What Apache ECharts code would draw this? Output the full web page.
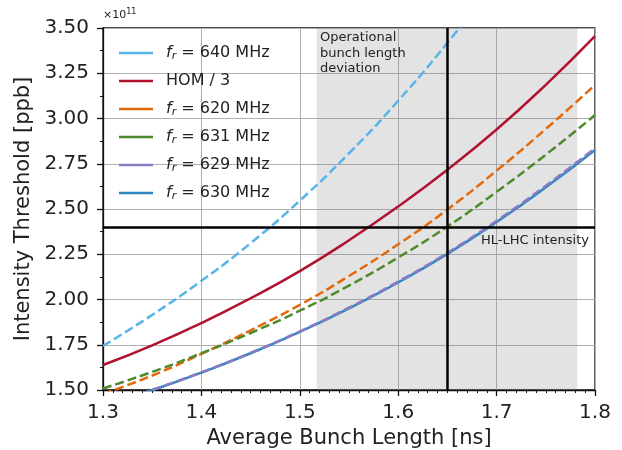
<!DOCTYPE html>
<html>
<head>
<meta charset="utf-8">
<script src="https://cdn.jsdelivr.net/npm/echarts@6/dist/echarts.min.js"></script>
<style>html,body{margin:0;padding:0;background:#fff}#c{width:622px;height:450px}</style>
</head>
<body>
<div id="c"></div>
<script>
// Data (y values in units of 1e11 ppb)
const bunchLength = [1.30, 1.35, 1.40, 1.45, 1.50, 1.55, 1.60, 1.65, 1.70, 1.75, 1.80];
const fr640 = [1.743, 1.915, 2.103, 2.311, 2.546, 2.808, 3.098, 3.418, 3.768, null, null];
const hom3  = [1.638, 1.747, 1.870, 2.007, 2.157, 2.327, 2.514, 2.717, 2.939, 3.186, 3.455];
const fr620 = [1.478, 1.580, 1.700, 1.830, 1.970, 2.130, 2.305, 2.497, 2.712, 2.942, 3.185];
const fr631 = [1.508, 1.600, 1.703, 1.815, 1.938, 2.077, 2.232, 2.403, 2.595, 2.800, 3.019];
const fr629 = [1.412, 1.501, 1.598, 1.705, 1.824, 1.955, 2.099, 2.258, 2.435, 2.629, 2.836];
const fr630 = [1.410, 1.499, 1.596, 1.703, 1.821, 1.951, 2.094, 2.252, 2.428, 2.620, 2.826];
const seriesNames = ['fr640', 'hom3', 'fr620', 'fr631', 'fr629', 'fr630'];
const legendLabels = {
  fr640: '{i|f}{s|r}{n| = 640 MHz}',
  hom3: '{n|HOM / 3}',
  fr620: '{i|f}{s|r}{n| = 620 MHz}',
  fr631: '{i|f}{s|r}{n| = 631 MHz}',
  fr629: '{i|f}{s|r}{n| = 629 MHz}',
  fr630: '{i|f}{s|r}{n| = 630 MHz}'
};
const opBand = [1.517, 1.782];
const nominalLength = 1.65;
const hlLhcIntensity = 2.4;
const xTicks = {min: 1.3, max: 1.8, step: 0.1};
const yTicks = {min: 1.5, max: 3.5, step: 0.25};

const FONT = 'DejaVu Sans';
function pairs(arr) { return bunchLength.map((x, i) => [x, arr[i]]); }

const chart = echarts.init(document.getElementById('c'), null, {renderer: 'canvas'});

function lineSeries(name, data, color, dashed, z) {
  return {
    name: name, type: 'line', data: pairs(data), showSymbol: false, smooth: 0.5,
    connectNulls: false, clip: true, z: z,
    lineStyle: {color: color, width: 2.5, type: dashed ? [9, 4] : 'solid'},
    itemStyle: {color: color}
  };
}

const series = [
  lineSeries('fr640', fr640, '#56b4e9', true, 3),
  lineSeries('hom3', hom3, '#b01230', false, 3),
  lineSeries('fr620', fr620, '#e36a0c', true, 3),
  lineSeries('fr631', fr631, '#4e8a2c', true, 3),
  lineSeries('fr630', fr630, '#2e86c4', false, 3),
  lineSeries('fr629', fr629, '#8a7bc2', true, 4),
  {
    name: 'markers', type: 'line', data: [], z: 2,
    markArea: {
      silent: true,
      itemStyle: {color: 'rgba(128,128,128,0.22)'},
      data: [[{xAxis: opBand[0]}, {xAxis: opBand[1]}]]
    }
  },
  {
    name: 'refs', type: 'line', data: [], z: 5,
    markLine: {
      silent: true, symbol: ['none', 'none'], animation: false,
      lineStyle: {color: '#000', width: 2.5, type: 'solid'},
      data: [
        {xAxis: nominalLength, label: {show: false}},
        {yAxis: hlLhcIntensity, label: {
          show: true, position: 'insideEndBottom', formatter: 'HL-LHC intensity',
          color: '#222', fontFamily: FONT, fontSize: 13, distance: [6, 7]
        }}
      ]
    }
  }
];

chart.setOption({
  animation: false,
  backgroundColor: '#fff',
  textStyle: {fontFamily: FONT},
  grid: {left: 103, right: 27, top: 28, bottom: 60, containLabel: false, outerBoundsMode: 'none',
    show: true, borderColor: '#111', borderWidth: 1.3, backgroundColor: 'transparent'},
  legend: {
    data: seriesNames, orient: 'vertical', left: 114, top: 39,
    icon: 'rect', itemWidth: 34, itemHeight: 2.5, itemGap: 10,
    formatter: n => legendLabels[n],
    textStyle: {
      color: '#222', fontFamily: FONT, fontSize: 16, lineHeight: 18, padding: [0, 0, 0, 8],
      rich: {
        i: {fontStyle: 'italic', fontFamily: FONT, fontSize: 16, color: '#222'},
        s: {fontStyle: 'italic', fontFamily: FONT, fontSize: 11, color: '#222', verticalAlign: 'bottom', padding: [7, 0, 0, 0]},
        n: {fontFamily: FONT, fontSize: 16, color: '#222'}
      }
    }
  },
  xAxis: {
    type: 'value', min: xTicks.min, max: xTicks.max, interval: xTicks.step,
    name: 'Average Bunch Length [ns]', nameLocation: 'middle', nameGap: 38,
    nameTextStyle: {fontFamily: FONT, fontSize: 21, color: '#222'},
    axisLine: {lineStyle: {color: '#111', width: 1.3}},
    axisTick: {show: true, length: 6, lineStyle: {color: '#111', width: 1.3}},
    minorTick: {show: true, splitNumber: 10, length: 3, lineStyle: {color: '#111', width: 1}},
    axisLabel: {fontFamily: FONT, fontSize: 20, color: '#222', margin: 13, formatter: v => v.toFixed(1)},
    splitLine: {show: true, lineStyle: {color: '#b0b0b0', width: 1}}
  },
  yAxis: {
    type: 'value', min: yTicks.min, max: yTicks.max, interval: yTicks.step,
    name: 'Intensity Threshold [ppb]', nameLocation: 'middle', nameGap: 65, nameRotate: 90,
    nameTextStyle: {fontFamily: FONT, fontSize: 21, color: '#222'},
    axisLine: {lineStyle: {color: '#111', width: 1.3}},
    axisTick: {show: true, length: 6, lineStyle: {color: '#111', width: 1.3}},
    minorTick: {show: true, splitNumber: 2, length: 3, lineStyle: {color: '#111', width: 1}},
    axisLabel: {fontFamily: FONT, fontSize: 20, color: '#222', margin: 14, formatter: v => v.toFixed(2)},
    splitLine: {show: true, lineStyle: {color: '#b0b0b0', width: 1}}
  },
  graphic: [
    {type: 'text', left: 103, top: 8, z: 10, style: {
      text: '×10{s|11}', fill: '#222', font: '11px "DejaVu Sans"',
      rich: {s: {fontSize: 8, fontFamily: FONT, verticalAlign: 'top', padding: [0, 0, 6, 0], fill: '#222'}}
    }},
    {type: 'text', left: 320, top: 30, z: 10, style: {
      text: 'Operational\nbunch length\ndeviation', fill: '#222', font: '13px "DejaVu Sans"', lineHeight: 15.5
    }}
  ],
  series: series
});
</script>
</body>
</html>
